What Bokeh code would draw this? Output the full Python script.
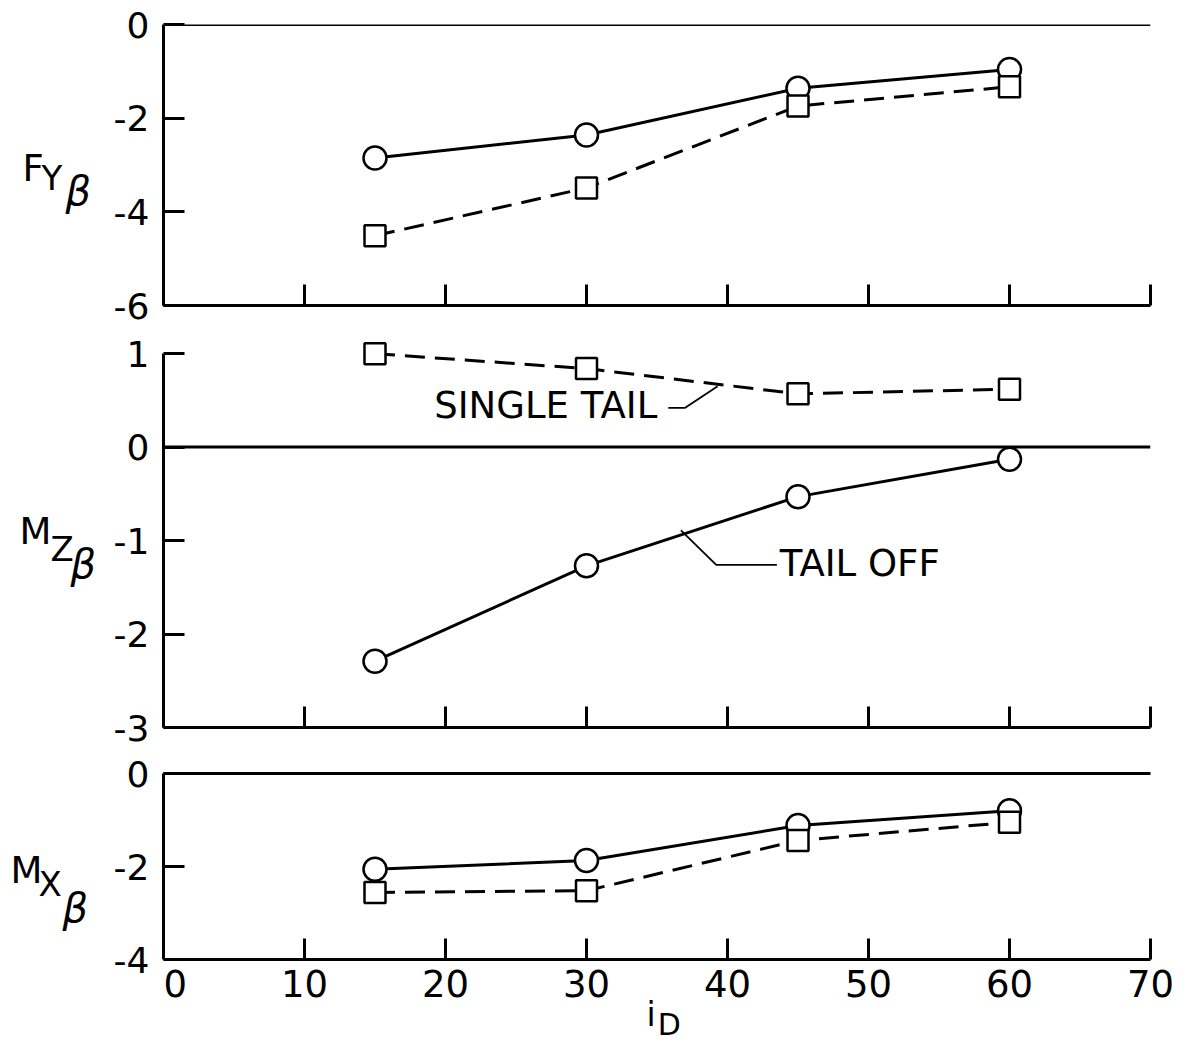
from bokeh.plotting import figure
from bokeh.layouts import column, row
from bokeh.models import Range1d, FixedTicker, Span, Label, LinearAxis
from bokeh.core.properties import value
from bokeh.embed import file_html
from bokeh.resources import INLINE

# ---- data ----
i_D = [15, 30, 45, 60]
fy_tail_off = [-2.85, -2.36, -1.36, -0.96]
fy_single_tail = [-4.51, -3.49, -1.74, -1.33]
mz_tail_off = [-2.29, -1.27, -0.53, -0.13]
mz_single_tail = [1.0, 0.84, 0.57, 0.62]
mx_tail_off = [-2.06, -1.87, -1.12, -0.80]
mx_single_tail = [-2.56, -2.52, -1.44, -1.05]

x_ticks = [0, 10, 20, 30, 40, 50, 60, 70]
fy_ticks = [0, -2, -4, -6]
mz_ticks = [1, 0, -1, -2, -3]
mx_ticks = [0, -2, -4]

FONT = "DejaVu Sans"
TICK_SIZE = "36px"
LW = 3
LABEL_W = 110
FRAME_W = 987
SX = FRAME_W / 70.0          # px per x unit
H1 = 24 + 281 + 20
H2 = 16 + 386 + 20
F3 = 268                      # bottom panel frame, extended below y=-4
PY3 = 186 / 4.0               # px per y unit in bottom panel
H3 = 26 + F3 + 3


def style_axis(ax, show_labels=True):
    ax.axis_label = None
    ax.axis_line_width = LW
    ax.axis_line_color = "black"
    ax.major_tick_line_width = LW
    ax.major_tick_line_color = "black"
    ax.major_tick_in = 21
    ax.major_tick_out = 0
    ax.minor_tick_line_color = None
    ax.major_label_text_font = FONT
    ax.major_label_text_color = "black"
    if show_labels:
        ax.major_label_text_font_size = TICK_SIZE
        ax.major_label_standoff = 14
    else:
        ax.major_label_text_font_size = "0px"
        ax.major_label_standoff = 0


def base_fig(**kw):
    p = figure(output_backend="svg", toolbar_location=None, title=None, **kw)
    p.grid.visible = False
    p.outline_line_color = None
    p.background_fill_color = "white"
    p.border_fill_color = "white"
    return p


def make_panel(ylo, yhi, ytop, yticks, frame_h, top, bottom):
    p = base_fig(frame_width=FRAME_W, frame_height=frame_h,
                 min_border_left=52, min_border_right=44,
                 min_border_top=top, min_border_bottom=bottom,
                 x_range=Range1d(0, 70), y_range=Range1d(ylo, ytop))
    style_axis(p.yaxis[0])
    style_axis(p.xaxis[0], show_labels=False)
    p.yaxis.bounds = (ylo, yhi)
    p.xaxis.ticker = FixedTicker(ticks=x_ticks)
    p.xaxis.major_label_overrides = {t: "" for t in x_ticks}
    p.yaxis.ticker = FixedTicker(ticks=yticks)
    p.yaxis.major_label_overrides = {t: str(t) for t in yticks}
    p.add_layout(Span(location=0, dimension="width", line_color="black",
                      line_width=LW))
    return p


def text_fig(w, h):
    # a bare figure whose frame fills its canvas, for the axis titles
    f = base_fig(width=w, height=h, x_range=Range1d(0, w),
                 y_range=Range1d(h, 0), min_border=0,
                 x_axis_location=None, y_axis_location=None)
    return f


def add_text(f, x, y, text, size, style="normal"):
    f.add_layout(Label(x=x, y=y, text=text, text_font=FONT,
                       text_font_size=size, text_font_style=style,
                       text_align="left", text_baseline="middle",
                       text_color="black"))


def add_series(p, x, y_off, y_single):
    p.line(x, y_off, line_color="black", line_width=3)
    p.line(x, y_single, line_color="black", line_width=3, line_dash="20 10")
    p.scatter(x, y_off, marker="circle", size=23, fill_color="white",
              line_color="black", line_width=2.5)
    p.scatter(x, y_single, marker="square", size=21, fill_color="white",
              line_color="black", line_width=2.5)


def ylabel_fig(h, main, sub, pts):
    f = text_fig(LABEL_W, h)
    add_text(f, pts[0][0], pts[0][1], main, "37px")
    add_text(f, pts[1][0], pts[1][1], sub, "34px")
    add_text(f, pts[2][0], pts[2][1], "β", "40px", "italic")
    return f


# ---- top panel: F_Y beta ----
p1 = make_panel(-6, 0, 0, fy_ticks, 281, 24, 20)
add_series(p1, i_D, fy_tail_off, fy_single_tail)
l1 = ylabel_fig(H1, "F", "Y", [(22, 166), (41, 178), (65, 193)])

# ---- middle panel: M_Z beta ----
p2 = make_panel(-3, 1, 1.13, mz_ticks, 386, 16, 20)
add_series(p2, i_D, mz_tail_off, mz_single_tail)
l2 = ylabel_fig(H2, "M", "Z", [(19, 208), (50, 227), (70, 243)])
p2.add_layout(Label(x=19.2, y=0.446, text="SINGLE TAIL", text_font=FONT,
                    text_font_size="37px", text_align="left",
                    text_baseline="middle", text_color="black"))
p2.line([35.8, 37.0, 39.3], [0.42, 0.42, 0.65], line_color="black",
        line_width=1.8)
p2.add_layout(Label(x=43.7, y=-1.25, text="TAIL OFF", text_font=FONT,
                    text_font_size="37px", text_align="left",
                    text_baseline="middle", text_color="black"))
p2.line([36.7, 39.2, 43.5], [-0.89, -1.26, -1.26], line_color="black",
        line_width=1.8)

# ---- bottom panel: M_X beta (frame extended down to hold the x labels) ----
p3 = base_fig(frame_width=FRAME_W + 44, frame_height=F3,
              min_border_left=52, min_border_right=0,
              min_border_top=26, min_border_bottom=3,
              x_range=Range1d(0, 70 + 44 / SX),
              y_range=Range1d(-F3 / PY3, 0))
style_axis(p3.yaxis[0])
style_axis(p3.xaxis[0], show_labels=False)
p3.yaxis.bounds = (-4, 0)
p3.yaxis.ticker = FixedTicker(ticks=mx_ticks)
p3.yaxis.major_label_overrides = {t: str(t) for t in mx_ticks}
p3.xaxis.ticker = FixedTicker(ticks=x_ticks)
p3.xaxis.major_label_overrides = {t: "" for t in x_ticks}
p3.xaxis.bounds = (0, 70)
p3.xaxis.fixed_location = -4
top_line = LinearAxis(ticker=FixedTicker(ticks=[]), bounds=(0, 70))
style_axis(top_line, show_labels=False)
p3.add_layout(top_line, "above")
add_series(p3, i_D, mx_tail_off, mx_single_tail)
# x tick labels, placed through the x scale
p3.text(x=x_ticks[:1], y=-4.52, text=[str(t) for t in x_ticks[:1]],
        text_font=value(FONT), text_font_size="37px", text_align="left",
        text_baseline="middle", text_color="black")
p3.text(x=x_ticks[1:], y=-4.52, text=[str(t) for t in x_ticks[1:]],
        text_font=value(FONT), text_font_size="37px", text_align="center",
        text_baseline="middle", text_color="black")
p3.add_layout(Label(x=34.26, y=-5.18, text="i", text_font=FONT,
                    text_font_size="33px", text_align="left",
                    text_baseline="middle", text_color="black"))
p3.add_layout(Label(x=35.05, y=-5.40, text="D", text_font=FONT,
                    text_font_size="30px", text_align="left",
                    text_baseline="middle", text_color="black"))
l3 = ylabel_fig(H3, "M", "X", [(10, 108), (38, 123), (62, 149)])

layout = column(row(l1, p1), row(l2, p2), row(l3, p3))
open("out.html", "w").write(file_html(layout, INLINE))
